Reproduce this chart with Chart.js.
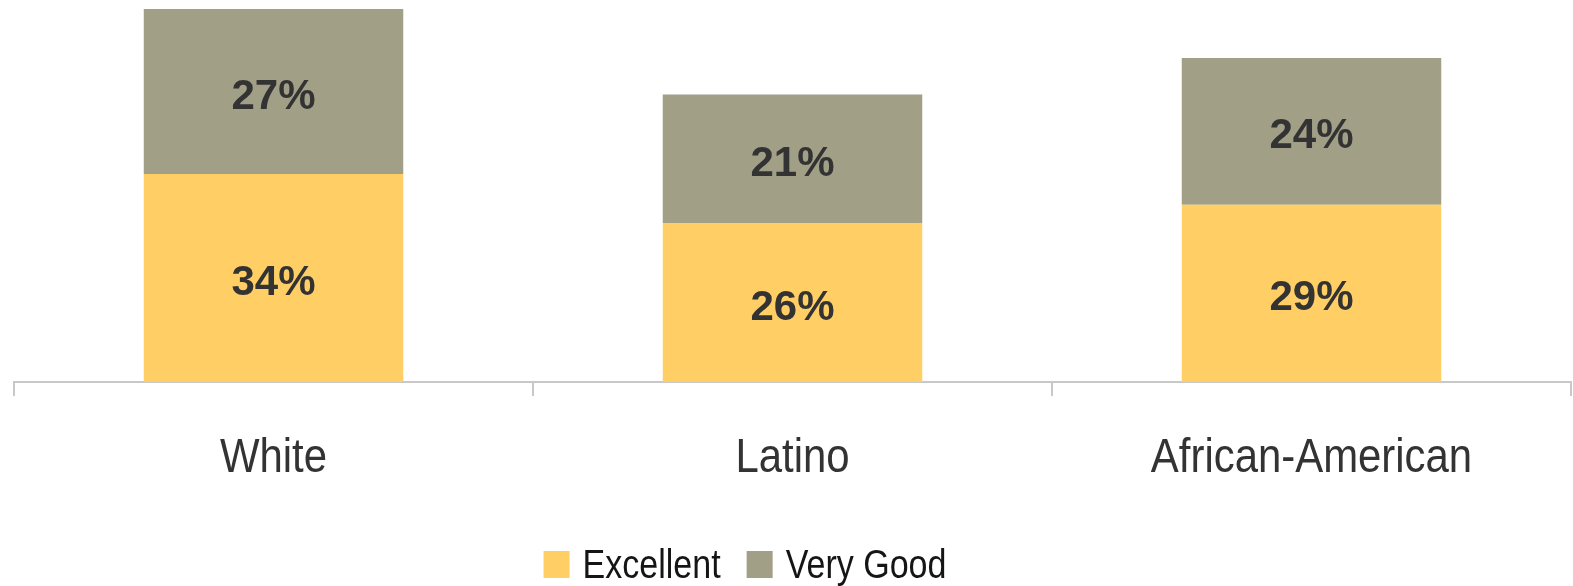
<!DOCTYPE html>
<html>
<head>
<meta charset="utf-8">
<script src="https://cdn.jsdelivr.net/npm/chart.js@4/dist/chart.umd.min.js"></script>
<style>
html,body{margin:0;padding:0;background:#fff;}
#wrap{width:1573px;height:586px;}
</style>
</head>
<body>
<div id="wrap"><canvas id="c" width="1573" height="586"></canvas></div>
<script>
const categories = ["White", "Latino", "African-American"];
const excellent = [34, 26, 29];
const veryGood = [27, 21, 24];
const seriesNames = ["Excellent", "Very Good"];
const seriesColors = ["#FFCF66", "#A29F87"];

const sansFamily = "'Liberation Sans', Arial, sans-serif";

function narrowText(ctx, text, x, y, align, squeeze) {
  ctx.save();
  ctx.translate(x, y);
  ctx.scale(squeeze, 1);
  ctx.textAlign = align;
  ctx.fillText(text, 0, 0);
  ctx.restore();
}

const customText = {
  id: 'customText',
  afterDatasetsDraw(chart) {
    const ctx = chart.ctx;
    ctx.save();
    ctx.font = "bold 42px " + sansFamily;
    ctx.fillStyle = '#333333';
    ctx.textAlign = 'center';
    ctx.textBaseline = 'alphabetic';
    chart.data.datasets.forEach((ds, i) => {
      const meta = chart.getDatasetMeta(i);
      meta.data.forEach((bar, j) => {
        const top = Math.min(bar.y, bar.base), bot = Math.max(bar.y, bar.base);
        ctx.fillText(ds.data[j] + '%', bar.x, (top + bot) / 2 + 17);
      });
    });
    ctx.restore();
  },
  afterDraw(chart) {
    const ctx = chart.ctx;
    const xs = chart.scales.x;
    ctx.save();
    ctx.font = "49px " + sansFamily;
    ctx.fillStyle = '#333333';
    ctx.textBaseline = 'alphabetic';
    chart.data.labels.forEach((lab, i) => {
      narrowText(ctx, lab, xs.getPixelForValue(i), 472, 'center', 0.855);
    });
    ctx.restore();

    ctx.save();
    const sq = 0.83;
    ctx.font = "41px " + sansFamily;
    ctx.textBaseline = 'alphabetic';
    const box = 27, gapText = 12, gapItem = 26;
    const items = chart.data.datasets.map(ds => ({
      label: ds.label, color: ds.backgroundColor,
      w: ctx.measureText(ds.label).width * sq
    }));
    let total = 0;
    items.forEach((it, k) => { total += box + gapText + it.w + (k ? gapItem : 0); });
    const centerX = 745;
    let x = centerX - total / 2;
    const baseY = 578;
    items.forEach((it, k) => {
      if (k) x += gapItem;
      ctx.fillStyle = it.color;
      ctx.fillRect(x, baseY - box, box - 1, box);
      x += box + gapText;
      ctx.fillStyle = '#151515';
      narrowText(ctx, it.label, x, baseY, 'left', sq);
      x += it.w;
    });
    ctx.restore();
  }
};

new Chart(document.getElementById('c'), {
  type: 'bar',
  data: {
    labels: categories,
    datasets: [
      { label: seriesNames[0], data: excellent, backgroundColor: seriesColors[0] },
      { label: seriesNames[1], data: veryGood, backgroundColor: seriesColors[1] }
    ]
  },
  options: {
    responsive: false,
    animation: false,
    layout: { padding: { top: 9, left: 14, right: 2, bottom: 190 } },
    datasets: { bar: { categoryPercentage: 1.0, barPercentage: 0.5 } },
    scales: {
      x: {
        stacked: true,
        border: { display: true, color: '#c8c8c8', width: 2 },
        grid: { display: true, drawOnChartArea: false, drawTicks: true, tickLength: 14, color: '#c8c8c8', lineWidth: 2 },
        ticks: { display: false }
      },
      y: {
        stacked: true,
        display: false,
        min: 0,
        max: 61
      }
    },
    plugins: {
      legend: { display: false },
      tooltip: { enabled: false }
    }
  },
  plugins: [customText]
});
</script>
</body>
</html>
